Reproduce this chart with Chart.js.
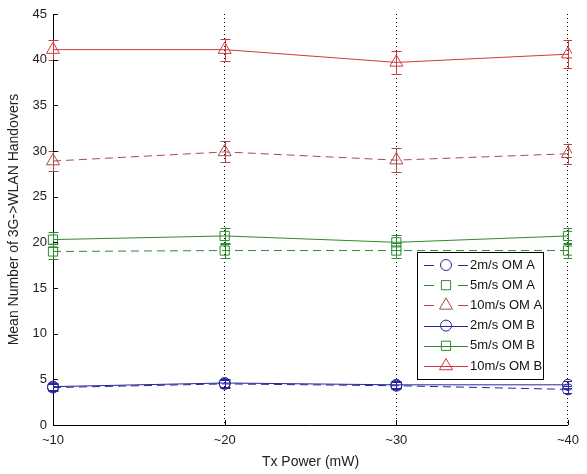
<!DOCTYPE html>
<html>
<head>
<meta charset="utf-8">
<script src="https://cdn.jsdelivr.net/npm/chart.js@4.4.1/dist/chart.umd.min.js"></script>
<style>
html,body{margin:0;padding:0;background:#fff;}
#wrap{width:587px;height:474px;position:relative;}
</style>
</head>
<body>
<div id="wrap"><canvas id="c" width="587" height="474"></canvas></div>
<script>
// ---- data ----
const categories = ['~10', '~20', '~30', '~40'];
const yTicks = [0, 5, 10, 15, 20, 25, 30, 35, 40, 45];

const omA_2  = [4.1, 4.5, 4.3, 3.9];
const omA_5  = [19.0, 19.1, 19.1, 19.1];
const omA_10 = [28.9, 29.9, 29.0, 29.7];
const omB_2  = [4.2, 4.6, 4.4, 4.4];
const omB_5  = [20.3, 20.7, 20.0, 20.7];
const omB_10 = [41.1, 41.1, 39.7, 40.6];

const errA_2  = [0.4, 0.4, 0.4, 0.4];
const errA_5  = [0.8, 0.8, 0.8, 0.8];
const errA_10 = [1.1, 1.15, 1.3, 1.1];
const errB_2  = [0.4, 0.4, 0.4, 0.4];
const errB_5  = [0.8, 0.9, 0.8, 0.9];
const errB_10 = [1.1, 1.2, 1.25, 1.5];

const seriesLabels = ['2m/s OM A', '5m/s OM A', '10m/s OM A', '2m/s OM B', '5m/s OM B', '10m/s OM B'];

// ---- styles ----
const BLUE = '#26269a', GREEN = '#2f8a2f', RED = '#cf3b3b', RED_A = '#ad4a4a';
const DASH = [8, 5];
const CLIP = { left: 12, top: 12, right: 4, bottom: 12 };

function ds(label, data, err, color, style, radius, dashed) {
  return {
    label, data, err,
    borderColor: color, backgroundColor: 'rgba(0,0,0,0)',
    pointBorderColor: color, pointBackgroundColor: 'rgba(0,0,0,0)',
    pointStyle: style, pointRadius: radius, pointBorderWidth: 1,
    borderWidth: 1, borderDash: dashed ? DASH : [], tension: 0, fill: false,
    clip: CLIP
  };
}

const datasets = [
  ds(seriesLabels[0], omA_2, errA_2, BLUE, 'circle', 5.5, true),
  ds(seriesLabels[1], omA_5, errA_5, GREEN, 'rect', 6.5, true),
  ds(seriesLabels[2], omA_10, errA_10, RED_A, 'triangle', 7.5, true),
  ds(seriesLabels[3], omB_2, errB_2, BLUE, 'circle', 5.5, false),
  ds(seriesLabels[4], omB_5, errB_5, GREEN, 'rect', 6.5, false),
  ds(seriesLabels[5], omB_10, errB_10, RED, 'triangle', 7.5, false)
];

function drawMarker(ctx, style, x, y, r) {
  ctx.beginPath();
  if (style === 'circle') {
    ctx.arc(x, y, r, 0, Math.PI * 2);
  } else if (style === 'rect') {
    const s = Math.SQRT1_2 * r;
    ctx.rect(x - s, y - s, 2 * s, 2 * s);
  } else if (style === 'triangle') {
    const w = r * Math.sqrt(3) / 2;
    ctx.moveTo(x, y - r);
    ctx.lineTo(x + w, y + r / 2);
    ctx.lineTo(x - w, y + r / 2);
    ctx.closePath();
  }
  ctx.stroke();
}

const errorBars = {
  id: 'errorBars',
  afterDatasetsDraw(chart) {
    const ctx = chart.ctx, ys = chart.scales.y, a = chart.chartArea;
    ctx.save();
    ctx.beginPath();
    ctx.rect(a.left - CLIP.left, a.top - CLIP.top, a.right - a.left + CLIP.left + CLIP.right, a.bottom - a.top + CLIP.top + CLIP.bottom);
    ctx.clip();
    chart.data.datasets.forEach((d, di) => {
      const meta = chart.getDatasetMeta(di);
      ctx.strokeStyle = d.borderColor;
      ctx.lineWidth = 1;
      ctx.setLineDash([]);
      meta.data.forEach((pt, i) => {
        const v = d.data[i], e = d.err[i];
        const y1 = ys.getPixelForValue(v + e), y2 = ys.getPixelForValue(v - e);
        const x = Math.round(pt.x) + 0.5;
        const cw = 5;
        ctx.beginPath();
        ctx.moveTo(x, y1); ctx.lineTo(x, y2);
        ctx.moveTo(x - cw, Math.round(y1) + 0.5); ctx.lineTo(x + cw, Math.round(y1) + 0.5);
        ctx.moveTo(x - cw, Math.round(y2) + 0.5); ctx.lineTo(x + cw, Math.round(y2) + 0.5);
        ctx.stroke();
      });
    });
    ctx.restore();
  }
};

const axisTicks = {
  id: 'axisTicks',
  afterDraw(chart) {
    const ctx = chart.ctx, a = chart.chartArea, xs = chart.scales.x, ys = chart.scales.y;
    ctx.save();
    ctx.strokeStyle = '#000';
    ctx.lineWidth = 1;
    ctx.beginPath();
    yTicks.forEach(v => {
      const y = Math.round(ys.getPixelForValue(v)) + 0.5;
      ctx.moveTo(a.left, y); ctx.lineTo(a.left + 5, y);
    });
    categories.forEach((c, i) => {
      const x = Math.round(xs.getPixelForValue(i)) + 0.5;
      ctx.moveTo(x, a.bottom); ctx.lineTo(x, a.bottom - 5);
    });
    ctx.stroke();
    ctx.restore();
  }
};

const boxLegend = {
  id: 'boxLegend',
  afterDraw(chart) {
    const ctx = chart.ctx;
    const bx = 417, by = 252, bw = 126, bh = 127;
    ctx.save();
    ctx.fillStyle = '#fff';
    ctx.fillRect(bx, by, bw, bh);
    ctx.strokeStyle = '#000';
    ctx.lineWidth = 1;
    ctx.setLineDash([]);
    ctx.strokeRect(bx + 0.5, by + 0.5, bw, bh);
    ctx.font = '13px "Liberation Sans", Arial, sans-serif';
    ctx.textBaseline = 'middle';
    chart.data.datasets.forEach((d, i) => {
      const y = by + 13 + i * 20.2;
      ctx.strokeStyle = d.borderColor;
      ctx.setLineDash(d.borderDash.length ? [10, 24] : []);
      ctx.beginPath();
      ctx.moveTo(bx + 7, Math.round(y) + 0.5);
      ctx.lineTo(bx + 51, Math.round(y) + 0.5);
      ctx.stroke();
      ctx.setLineDash([]);
      drawMarker(ctx, d.pointStyle, bx + 29, y, d.pointRadius);
      ctx.fillStyle = '#111';
      ctx.fillText(d.label, bx + 53, y);
    });
    ctx.restore();
  }
};

const whiteBg = {
  id: 'whiteBg',
  beforeDraw(chart) {
    const ctx = chart.ctx;
    ctx.save();
    ctx.fillStyle = '#fff';
    ctx.fillRect(0, 0, chart.width, chart.height);
    ctx.restore();
  }
};

Chart.defaults.font.family = '"Liberation Sans", Arial, sans-serif';
Chart.defaults.font.size = 13;
Chart.defaults.color = '#222';

new Chart(document.getElementById('c'), {
  type: 'line',
  data: { labels: categories, datasets },
  options: {
    responsive: false,
    animation: false,
    events: [],
    layout: { padding: { top: 14, right: 12, left: 0, bottom: 0 } },
    plugins: { legend: { display: false }, tooltip: { enabled: false } },
    scales: {
      x: {
        type: 'category',
        offset: false,
        grid: { display: true, drawOnChartArea: true, drawTicks: false, color: '#000', lineWidth: 1 },
        border: { display: true, color: '#000', dash: [1, 3] },
        ticks: { padding: 8, color: '#222', font: { size: 13 } },
        title: { display: true, text: 'Tx Power (mW)', color: '#222', font: { size: 14 }, padding: { top: 2, bottom: 3 } },
        afterFit(s) { s.height = 49; }
      },
      y: {
        min: 0, max: 45,
        afterBuildTicks(s) { s.ticks = yTicks.map(v => ({ value: v })); },
        grid: { display: false, drawTicks: false },
        border: { display: true, color: '#000' },
        ticks: { padding: 6, color: '#222', font: { size: 13 } },
        title: { display: true, text: 'Mean Number of 3G->WLAN Handovers', color: '#222', font: { size: 14 }, padding: { top: 6, bottom: 8 } },
        afterFit(s) { s.width = 53; }
      }
    }
  },
  plugins: [whiteBg, errorBars, axisTicks, boxLegend]
});
</script>
</body>
</html>
